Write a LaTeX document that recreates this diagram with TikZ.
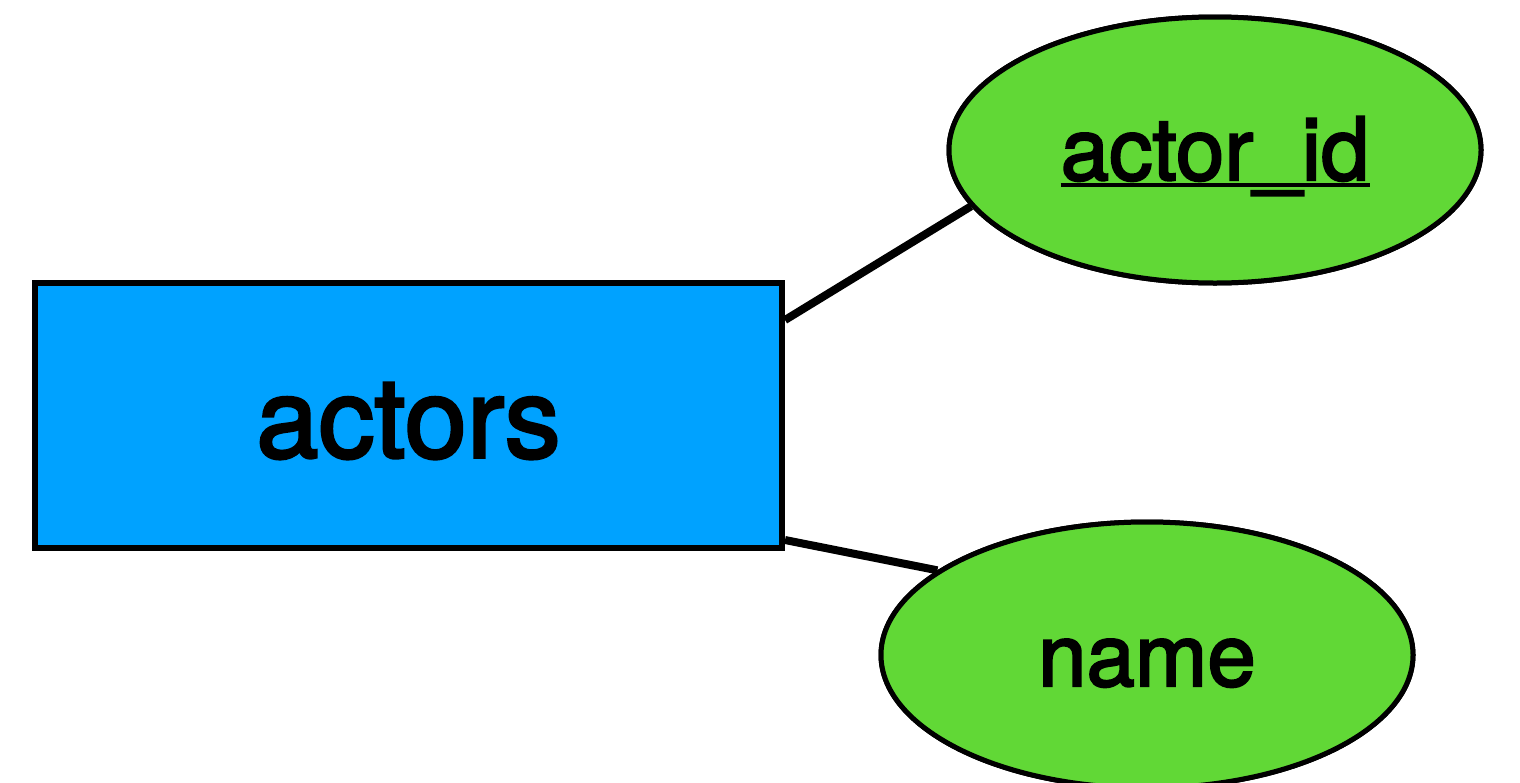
\documentclass[tikz,border=0pt]{standalone}
\usepackage{fontspec}
\setmainfont{TeX Gyre Heros}
\newfontfamily\medfont[FakeBold=2.5]{TeX Gyre Heros}
\usetikzlibrary{shapes.geometric}
\definecolor{entblue}{RGB}{0,162,255}
\definecolor{attrgreen}{RGB}{97,216,54}
\tikzset{
  entity/.style={draw=black, fill=entblue, line width=6pt, rectangle, inner sep=0pt,
    minimum width=747pt, minimum height=265pt},
  attribute/.style={draw=black, fill=attrgreen, line width=5pt, ellipse, inner sep=0pt,
    minimum width=532pt, minimum height=266pt},
  bigtext/.style={anchor=base, inner sep=0pt, font=\medfont\fontsize{112}{134}\selectfont},
  smalltext/.style={anchor=base, inner sep=0pt, font=\medfont\fontsize{87}{106}\selectfont},
  link/.style={draw=black, line width=8pt},
}
\begin{document}
\begin{tikzpicture}[x=1pt,y=-1pt]
\useasboundingbox (0,0) rectangle (1520,782);
\node[entity] (actors) at (408.5,415.5) {};
\node[attribute] (actorid) at (1215,150) {};
\node[attribute] (name) at (1147,655) {};
\draw[link] ([yshift=-40pt]actors.north east) -- (actorid.193.4);
\draw[link] ([yshift=11pt]actors.south east) -- (name.158.9);
% redraw shapes on top of connectors
\node[entity] at (408.5,415.5) {};
\node[attribute] at (1215,150) {};
\node[attribute] at (1147,655) {};
\node[bigtext] (actorstext) at ([yshift=-42pt]actors.center) {actors};
\node[smalltext] (idtext) at ([yshift=-30pt]actorid.center) {actor\_id};
\node[smalltext] (nametext) at ([yshift=-31pt]name.center) {name};
\draw[line width=4pt] ([yshift=-4.5pt]idtext.base west) -- ([yshift=-4.5pt]idtext.base east);
\end{tikzpicture}
\end{document}
